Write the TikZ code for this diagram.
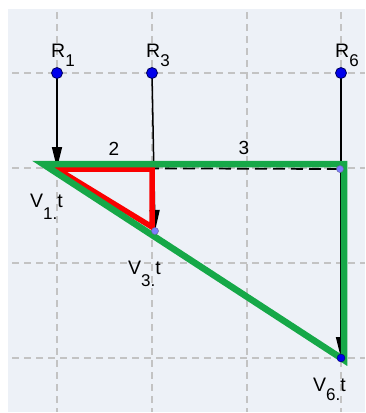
\documentclass[tikz,border=0pt]{standalone}
\usepackage{fontspec}
\setmainfont{Liberation Sans}
\usetikzlibrary{arrows.meta}
\definecolor{bgc}{RGB}{237,241,247}
\definecolor{gridc}{RGB}{195,195,195}
\definecolor{ggreen}{RGB}{22,168,72}
\definecolor{gred}{RGB}{250,0,0}
\definecolor{gblue}{RGB}{0,0,235}
\definecolor{gdark}{RGB}{0,0,90}
\definecolor{gpurple}{RGB}{125,125,255}
\newcommand\lowsub[2][10pt]{\raisebox{-#1}{\fontsize{17}{17}\selectfont #2}}
\begin{document}
\begin{tikzpicture}[x=1pt,y=-1pt,
  gridline/.style={gridc, line width=1.1pt, dash pattern=on 7pt off 5pt},
  vec/.style={black, line width=1.5pt, -{Triangle[length=21pt,width=10pt]}},
  bdot/.style={circle, fill=gblue, draw=gdark, line width=0.8pt, minimum size=11pt, inner sep=0pt},
  pdot/.style={circle, fill=gpurple, draw=gdark!60, line width=0.5pt, minimum size=7pt, inner sep=0pt},
  lbl/.style={font=\fontsize{19.5}{19.5}\selectfont, inner sep=0pt, anchor=base west},
  num/.style={font=\fontsize{19}{19}\selectfont, inner sep=0pt}]
\useasboundingbox (0,0) rectangle (365,413);
\fill[bgc] (8,9) rectangle (365,412);
% grid
\foreach \x in {57,152,247,341} \draw[gridline] (\x,12) -- (\x,412);
\foreach \y in {73,168,263,358} \draw[gridline] (12,\y) -- (365,\y);
% points
\coordinate (R1) at (57,73);
\coordinate (R3) at (152,73);
\coordinate (R6) at (341,73);
\coordinate (V1) at (57,168);
\coordinate (V3) at (155,231);
\coordinate (V6) at (341,358);
\coordinate (C) at (340,169);
% black dashed line
\draw[black, line width=1.8pt, dash pattern=on 12pt off 6pt] (V1) -- (C);
% vectors
\draw[vec] (R1) -- (V1);
\draw[vec] (R3) -- (V3);
\draw[vec] (R6) -- (V6);
% red triangle
\coordinate (r1) at (57,169);
\coordinate (r2) at (152,169);
\coordinate (r3) at (152,227);
\draw[gred, line width=5.5pt, line join=miter] (r1) -- (r2) -- (r3) -- cycle;
% green triangle
\coordinate (g1) at (43,164);
\coordinate (g2) at (344,164);
\coordinate (g3) at (344,360);
\draw[ggreen, line width=6.5pt, line join=miter, miter limit=20] (g1) -- (g2) -- (g3) -- cycle;
% dots
\node[bdot] (R1d) at (R1) {};
\node[bdot] (R3d) at (R3) {};
\node[bdot] (R6d) at (R6) {};
\node[pdot] (V3d) at (V3) {};
\node[pdot] (Cd) at (C) {};
\node[circle, fill=gblue, draw=gdark, minimum size=8pt, inner sep=0pt] (V6d) at (V6) {};
% labels
\node[lbl] (lR1) at (51,57) {R\lowsub[9pt]{1}};
\node[lbl] (lR3) at (146,57) {R\lowsub[9pt]{3}};
\node[lbl] (lR6) at (335,57) {R\lowsub[9pt]{6}};
\node[lbl] (lV1) at (30,207) {V\lowsub[12pt]{1.}t};
\node[lbl] (lV3) at (128,274) {V\lowsub[12pt]{3.}t};
\node[lbl] (lV6) at (313,391) {V\lowsub[9pt]{6.}t};
\node[num] (n2) at (114,149) {2};
\node[num] (n3) at (244,148) {3};
\end{tikzpicture}
\end{document}
